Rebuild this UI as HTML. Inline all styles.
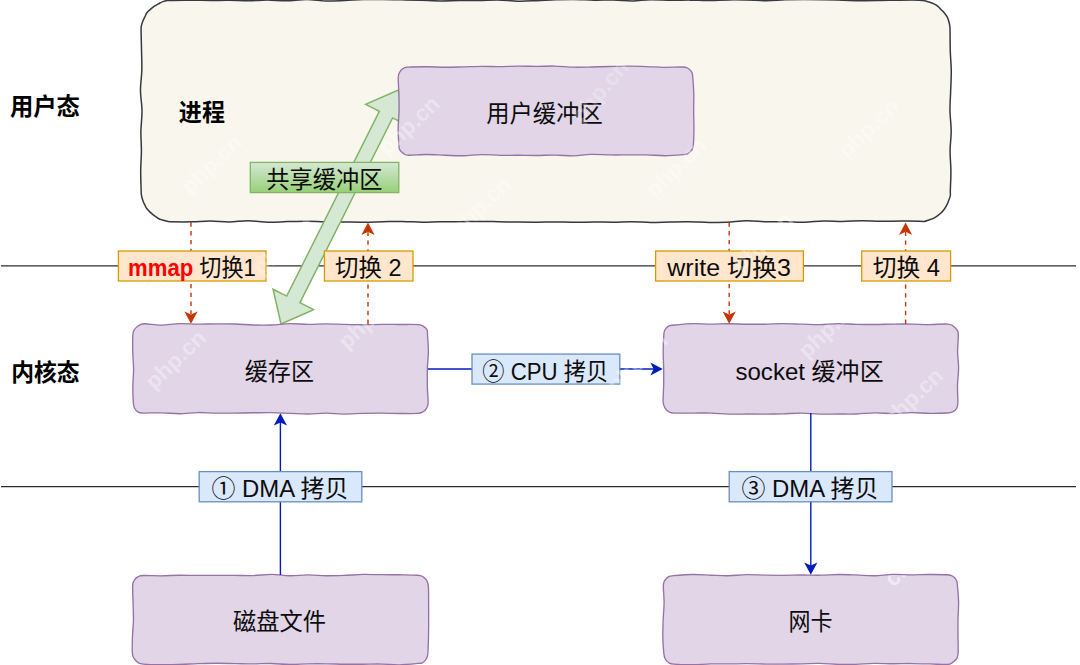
<!DOCTYPE html>
<html lang="zh-CN">
<head>
<meta charset="utf-8">
<title>mmap + write 零拷贝示意图</title>
<style>
html,body{margin:0;padding:0;background:#fff;}
body{width:1080px;height:665px;overflow:hidden;font-family:"Liberation Sans","Noto Sans CJK SC",sans-serif;}
svg{display:block;}
svg text{font-family:"Liberation Sans","Noto Sans CJK SC",sans-serif;}
</style>
</head>
<body>
<svg width="1080" height="665" viewBox="0 0 1080 665" role="img" aria-label="mmap + write 数据拷贝与上下文切换示意图">
<defs><linearGradient id="gg" x1="0" y1="0" x2="0" y2="1"><stop offset="0" stop-color="#d5e8d4"/><stop offset="1" stop-color="#97d077"/></linearGradient></defs>
<rect width="1080" height="665" fill="#fff"/>
<path d="M1 265.9 H1076" stroke="#2e2e2e" stroke-width="1.3" fill="none"/>
<path d="M1 486.7 H1076" stroke="#2e2e2e" stroke-width="1.3" fill="none"/>
<path d="M172.12 0.4C176.24 0.36 185.68 0.23 192.08 0.24C198.49 0.25 204.36 0.44 210.54 0.45C216.71 0.46 222.73 0.26 229.15 0.32C235.57 0.38 242.71 0.86 249.07 0.8C255.43 0.74 261.08 -0.04 267.32 -0.03C273.55 -0.03 279.92 0.9 286.47 0.83C293.03 0.75 300.02 -0.52 306.66 -0.48C313.3 -0.43 319.94 0.93 326.31 1.09C332.69 1.25 338.76 0.77 344.92 0.5C351.07 0.23 356.88 -0.37 363.23 -0.52C369.58 -0.68 376.63 -0.51 383.03 -0.45C389.42 -0.38 395.37 -0.25 401.61 -0.14C407.86 -0.02 414.04 0.07 420.5 0.24C426.96 0.41 433.83 0.83 440.36 0.88C446.89 0.93 453.25 0.59 459.66 0.54C466.06 0.49 472.41 0.68 478.78 0.58C485.15 0.47 491.35 -0.17 497.87 -0.08C504.4 0.02 511.46 1.02 517.95 1.14C524.45 1.26 530.65 0.87 536.85 0.65C543.04 0.44 548.89 0.02 555.12 -0.16C561.35 -0.34 567.72 -0.48 574.23 -0.43C580.75 -0.38 587.66 0.04 594.21 0.13C600.75 0.22 607.06 -0.02 613.5 0.11C619.95 0.23 626.71 0.94 632.86 0.89C639 0.84 644.02 -0.09 650.39 -0.19C656.76 -0.3 664.43 0.2 671.1 0.25C677.76 0.3 684.23 0.08 690.38 0.13C696.53 0.17 701.67 0.56 708 0.52C714.33 0.48 721.97 -0.01 728.36 -0.09C734.75 -0.18 739.9 -0.12 746.34 0.02C752.78 0.15 760.6 0.76 767 0.74C773.39 0.71 778.58 0.07 784.72 -0.13C790.86 -0.33 797.27 -0.43 803.85 -0.45C810.43 -0.47 817.68 -0.36 824.2 -0.25C830.71 -0.14 836.74 0.05 842.95 0.21C849.17 0.37 855.22 0.64 861.49 0.69C867.76 0.75 874.18 0.63 880.55 0.54C886.92 0.46 893.22 0.23 899.69 0.17C906.15 0.1 915.17 0.05 919.33 0.16C923.49 0.28 923.02 0.55 924.63 0.86C926.24 1.18 927.5 1.59 928.96 2.05C930.42 2.51 931.91 2.91 933.4 3.62C934.9 4.33 936.64 5.3 937.93 6.3C939.23 7.31 940.1 8.57 941.18 9.67C942.26 10.78 943.39 11.69 944.41 12.93C945.43 14.18 946.54 15.7 947.28 17.12C948.03 18.55 948.43 19.9 948.86 21.47C949.29 23.03 949.67 24.83 949.87 26.5C950.07 28.17 950 27.37 950.06 31.47C950.13 35.58 950.08 44.53 950.28 51.13C950.48 57.74 951.22 64.34 951.28 71.1C951.34 77.85 950.85 85.12 950.63 91.66C950.41 98.2 949.87 103.74 949.96 110.36C950.06 116.99 951.18 124.76 951.19 131.4C951.21 138.05 950.12 143.58 950.07 150.25C950.03 156.92 950.87 164.67 950.91 171.44C950.95 178.21 950.41 186.86 950.32 190.87C950.23 194.88 950.58 194 950.35 195.51C950.12 197.02 949.52 198.37 948.94 199.94C948.35 201.52 947.6 203.45 946.85 204.95C946.09 206.45 945.35 207.65 944.42 208.94C943.5 210.24 942.38 211.61 941.28 212.71C940.17 213.82 939.09 214.62 937.78 215.56C936.46 216.5 934.87 217.62 933.38 218.35C931.89 219.08 930.32 219.41 928.82 219.92C927.32 220.43 925.91 221.21 924.38 221.43C922.86 221.65 923.58 221.28 919.69 221.23C915.8 221.17 907.6 221.1 901.05 221.1C894.49 221.09 886.88 221.25 880.36 221.21C873.83 221.17 868.27 220.82 861.92 220.85C855.58 220.88 848.65 221.36 842.3 221.38C835.95 221.4 830.15 220.83 823.81 220.97C817.48 221.12 810.57 222.12 804.3 222.26C798.02 222.41 792.48 221.95 786.19 221.87C779.89 221.78 773.16 221.92 766.53 221.74C759.91 221.57 753.01 220.72 746.43 220.81C739.86 220.9 733.29 222.03 727.07 222.3C720.84 222.56 715.45 222.46 709.06 222.39C702.68 222.31 695.2 221.9 688.75 221.83C682.3 221.77 676.67 221.89 670.37 221.99C664.07 222.09 657.43 222.5 650.93 222.45C644.43 222.4 637.62 221.71 631.35 221.68C625.09 221.65 619.52 222.24 613.32 222.28C607.12 222.32 600.53 221.94 594.16 221.95C587.79 221.95 581.59 222.31 575.09 222.31C568.59 222.3 561.54 221.93 555.18 221.91C548.82 221.9 543.32 222.2 536.95 222.23C530.58 222.26 523.36 222.18 516.97 222.09C510.57 222.01 504.89 221.84 498.56 221.72C492.24 221.61 485.46 221.39 479 221.4C472.53 221.41 466.31 221.71 459.76 221.79C453.22 221.86 446.02 221.76 439.75 221.84C433.48 221.91 428.34 222.32 422.14 222.25C415.94 222.17 408.99 221.5 402.53 221.41C396.07 221.33 389.85 221.61 383.38 221.74C376.91 221.87 370.29 222.13 363.71 222.18C357.14 222.22 350.45 222.09 343.95 222.03C337.44 221.96 330.97 221.92 324.69 221.77C318.42 221.62 312.5 221.17 306.3 221.14C300.1 221.11 293.86 221.4 287.51 221.6C281.16 221.79 274.71 222.45 268.2 222.31C261.69 222.18 254.91 220.84 248.43 220.77C241.96 220.7 235.75 221.86 229.35 221.9C222.94 221.95 216.23 221.04 210.02 221.04C203.8 221.03 198.36 221.74 192.05 221.87C185.74 222 176.3 221.93 172.17 221.83C168.03 221.74 168.87 221.62 167.25 221.32C165.63 221.02 163.93 220.52 162.44 220.04C160.95 219.57 159.68 219.21 158.31 218.47C156.94 217.73 155.53 216.62 154.2 215.61C152.88 214.6 151.55 213.54 150.33 212.41C149.11 211.28 147.83 210.07 146.9 208.82C145.98 207.56 145.46 206.28 144.78 204.88C144.1 203.49 143.4 202.05 142.84 200.45C142.29 198.84 141.74 196.96 141.45 195.25C141.16 193.55 141.24 194.34 141.12 190.22C140.99 186.1 140.66 177.12 140.71 170.54C140.76 163.97 141.39 157.28 141.41 150.76C141.44 144.25 140.79 138.09 140.89 131.44C140.99 124.79 142.09 117.74 142.02 110.87C141.95 104 140.51 96.99 140.48 90.24C140.45 83.49 141.65 76.83 141.83 70.35C142.01 63.86 141.68 57.81 141.55 51.33C141.43 44.85 141.13 35.66 141.09 31.47C141.04 27.29 141.03 27.91 141.3 26.23C141.56 24.56 142.11 22.96 142.69 21.44C143.27 19.91 144.07 18.51 144.77 17.07C145.48 15.63 145.98 14.1 146.91 12.81C147.84 11.52 149.17 10.43 150.36 9.35C151.55 8.27 152.73 7.21 154.06 6.31C155.38 5.41 156.86 4.73 158.31 3.95C159.75 3.17 161.23 2.22 162.73 1.64C164.23 1.06 165.77 0.7 167.34 0.49C168.9 0.28 167.99 0.44 172.12 0.4Z" fill="#f9f7ed" stroke="#36393d" stroke-width="1.5" stroke-linejoin="round"/>
<polygon points="281,324 313.62,309.59 299.94,302.73 392.59,117.9 406.27,124.76 398.3,90 365.68,104.41 379.36,111.27 286.71,296.1 273.03,289.24" fill="#d5e8d4" stroke="#82b366" stroke-width="1.5" stroke-linejoin="miter"/>
<path d="M408.26 67.1C412.26 66.84 421.18 66.74 427.28 66.77C433.38 66.79 438.73 67.26 444.87 67.27C451 67.28 457.91 66.97 464.07 66.82C470.24 66.67 475.98 66.42 481.85 66.38C487.72 66.34 493.2 66.64 499.31 66.59C505.41 66.55 512.2 66.15 518.5 66.11C524.79 66.07 531.1 66.38 537.09 66.37C543.08 66.36 548.31 65.93 554.45 66.07C560.59 66.2 567.68 67.03 573.94 67.18C580.19 67.33 586.17 67.09 592 66.99C597.83 66.88 602.93 66.66 608.91 66.53C614.9 66.39 621.58 66.17 627.92 66.19C634.25 66.2 640.91 66.4 646.9 66.59C652.9 66.78 657.96 67.23 663.89 67.31C669.82 67.38 678.48 66.89 682.49 67.04C686.5 67.19 686.39 67.4 687.92 68.24C689.46 69.07 690.91 70.65 691.71 72.04C692.5 73.43 692.35 72.95 692.7 76.56C693.05 80.17 693.63 88.05 693.79 93.7C693.94 99.35 693.62 104.7 693.65 110.48C693.68 116.27 694 122.69 693.95 128.41C693.9 134.12 693.69 141.15 693.34 144.75C692.99 148.34 692.77 148.49 691.84 149.98C690.9 151.47 689.17 152.91 687.74 153.68C686.3 154.45 686.99 154.28 683.22 154.62C679.45 154.96 671.32 155.68 665.12 155.72C658.92 155.76 652.25 155.02 646.04 154.88C639.82 154.75 633.77 154.91 627.84 154.92C621.91 154.92 616.65 155 610.45 154.92C604.25 154.84 596.8 154.29 590.64 154.45C584.48 154.61 579.45 155.78 573.49 155.89C567.53 155.99 561 155.15 554.87 155.09C548.74 155.02 542.86 155.47 536.7 155.5C530.54 155.53 524 155.31 517.92 155.27C511.83 155.24 506.29 155.41 500.19 155.3C494.09 155.18 487.47 154.49 481.33 154.57C475.19 154.65 469.38 155.67 463.34 155.78C457.29 155.9 451.17 155.48 445.07 155.26C438.98 155.04 432.84 154.46 426.75 154.47C420.66 154.47 412.4 155.42 408.56 155.28C404.72 155.14 405.16 154.51 403.71 153.62C402.25 152.74 400.6 151.33 399.81 149.95C399.01 148.57 399.21 148.9 398.94 145.33C398.66 141.77 398.13 134.26 398.15 128.56C398.17 122.85 398.91 116.84 399.04 111.09C399.17 105.35 399.05 99.77 398.91 94.11C398.78 88.45 398.06 80.87 398.23 77.16C398.4 73.45 399.07 73.32 399.92 71.86C400.76 70.4 401.92 69.17 403.31 68.38C404.7 67.58 404.27 67.37 408.26 67.1Z" fill="#e1d5e7" stroke="#9673a6" stroke-width="1.35" stroke-linejoin="round"/>
<path d="M144.03 323.72C147.82 323.58 154.94 325.1 160.82 325.1C166.71 325.09 173.11 323.87 179.37 323.69C185.63 323.52 192.12 324.02 198.4 324.05C204.69 324.08 210.89 323.88 217.07 323.87C223.25 323.86 229.45 323.82 235.47 324.01C241.49 324.2 247.16 324.83 253.18 324.99C259.2 325.15 265.48 325.21 271.6 324.98C277.73 324.74 283.78 323.67 289.93 323.58C296.07 323.49 302.5 324.41 308.49 324.44C314.48 324.48 319.78 323.81 325.86 323.8C331.95 323.8 338.75 324.28 345.01 324.43C351.28 324.59 357.32 324.74 363.44 324.74C369.57 324.73 375.73 324.45 381.76 324.41C387.8 324.36 393.68 324.45 399.63 324.48C405.58 324.5 413.61 324.33 417.46 324.56C421.32 324.79 421.16 325.02 422.74 325.86C424.33 326.71 426.15 328.06 426.95 329.63C427.74 331.21 427.29 331.71 427.53 335.32C427.76 338.93 428.39 345.71 428.37 351.3C428.34 356.88 427.55 362.99 427.38 368.85C427.21 374.71 427.23 380.82 427.35 386.48C427.47 392.14 428.22 399.2 428.1 402.81C427.99 406.42 427.48 406.64 426.64 408.14C425.81 409.64 424.62 410.9 423.08 411.79C421.54 412.67 421.41 413.15 417.4 413.43C413.38 413.71 405.04 413.49 398.99 413.45C392.94 413.41 387.09 413.21 381.1 413.19C375.1 413.18 369.23 413.2 363.02 413.35C356.8 413.5 349.97 414.12 343.79 414.09C337.61 414.07 331.95 413.21 325.94 413.19C319.92 413.17 313.66 413.97 307.72 413.99C301.79 414.01 296.41 413.54 290.32 413.32C284.22 413.1 277.26 412.75 271.15 412.65C265.04 412.56 259.71 412.71 253.65 412.77C247.6 412.84 241.05 413.01 234.81 413.06C228.56 413.11 222.36 413.15 216.17 413.07C209.98 412.99 203.71 412.44 197.67 412.56C191.63 412.68 185.9 413.73 179.93 413.77C173.96 413.82 167.91 412.94 161.82 412.82C155.74 412.7 147.38 413.17 143.41 413.05C139.44 412.92 139.49 412.91 138 412.08C136.51 411.24 135.22 409.57 134.44 408.03C133.67 406.48 133.62 406.48 133.35 402.8C133.09 399.12 132.8 391.54 132.84 385.94C132.88 380.33 133.6 374.82 133.59 369.19C133.57 363.56 132.87 357.91 132.76 352.16C132.64 346.42 132.61 338.46 132.88 334.72C133.15 330.98 133.49 331.19 134.37 329.73C135.24 328.27 136.5 326.96 138.11 325.95C139.72 324.95 140.25 323.87 144.03 323.72Z" fill="#e1d5e7" stroke="#9673a6" stroke-width="1.35" stroke-linejoin="round"/>
<path d="M674.78 325.02C678.77 324.64 686.97 323.77 692.96 323.63C698.95 323.49 704.73 324.17 710.71 324.18C716.7 324.19 722.88 323.7 728.85 323.71C734.82 323.71 740.55 324.12 746.54 324.21C752.54 324.3 758.79 324.32 764.82 324.23C770.85 324.13 776.53 323.65 782.74 323.64C788.95 323.63 795.86 324 802.07 324.17C808.28 324.35 814 324.77 819.99 324.67C825.97 324.58 831.82 323.63 837.97 323.59C844.12 323.55 850.73 324.29 856.89 324.44C863.04 324.59 868.79 324.55 874.92 324.49C881.05 324.43 887.55 324.15 893.65 324.08C899.76 324.01 905.58 324.01 911.55 324.09C917.52 324.17 923.49 324.56 929.48 324.56C935.47 324.55 943.6 323.86 947.5 324.07C951.39 324.28 951.29 324.92 952.84 325.83C954.38 326.74 955.83 328.11 956.74 329.52C957.66 330.93 958.19 330.63 958.33 334.29C958.47 337.96 957.54 345.85 957.59 351.52C957.63 357.19 958.62 362.71 958.61 368.31C958.59 373.92 957.61 379.43 957.48 385.16C957.36 390.88 957.97 398.83 957.84 402.67C957.72 406.52 957.58 406.71 956.73 408.23C955.89 409.75 954.33 411.03 952.76 411.82C951.18 412.61 951.09 412.73 947.26 412.99C943.44 413.25 935.9 413.43 929.81 413.38C923.73 413.33 916.82 412.63 910.75 412.67C904.67 412.71 899.28 413.6 893.35 413.63C887.43 413.67 881.33 412.82 875.19 412.88C869.05 412.94 862.65 413.78 856.51 413.97C850.37 414.16 844.53 414 838.35 414.01C832.17 414.03 825.66 414.2 819.43 414.06C813.21 413.92 807.14 413.21 801.02 413.17C794.91 413.12 788.65 413.65 782.74 413.8C776.83 413.94 771.44 414.02 765.57 414.06C759.7 414.1 753.64 414.01 747.52 414.02C741.4 414.02 734.95 414.24 728.86 414.08C722.77 413.92 716.93 413.22 710.97 413.05C705 412.89 699.27 413.1 693.09 413.1C686.92 413.1 677.97 413.29 673.93 413.06C669.88 412.83 670.28 412.52 668.83 411.72C667.38 410.93 666.2 409.9 665.25 408.3C664.3 406.71 663.41 406 663.15 402.17C662.88 398.33 663.56 390.75 663.65 385.27C663.73 379.79 663.74 374.9 663.67 369.3C663.6 363.7 663.18 357.43 663.2 351.67C663.23 345.92 663.54 338.42 663.82 334.77C664.11 331.12 664.05 331.24 664.92 329.77C665.79 328.3 667.38 326.72 669.03 325.93C670.67 325.14 670.79 325.4 674.78 325.02Z" fill="#e1d5e7" stroke="#9673a6" stroke-width="1.35" stroke-linejoin="round"/>
<path d="M143.64 575.54C147.47 575.4 155.12 575.84 161.08 575.8C167.04 575.75 173.31 575.34 179.38 575.27C185.46 575.21 191.42 575.4 197.51 575.41C203.59 575.42 209.62 575.33 215.89 575.33C222.15 575.33 228.92 575.38 235.09 575.43C241.27 575.47 246.76 575.76 252.93 575.59C259.09 575.41 265.97 574.36 272.09 574.38C278.2 574.41 283.59 575.65 289.62 575.73C295.65 575.82 302.22 574.91 308.26 574.91C314.3 574.91 319.93 575.64 325.85 575.72C331.78 575.81 337.55 575.63 343.79 575.42C350.03 575.2 357.13 574.57 363.29 574.45C369.45 574.33 374.73 574.63 380.75 574.69C386.76 574.74 393.2 574.7 399.38 574.79C405.56 574.88 413.93 574.93 417.82 575.24C421.71 575.54 421.31 575.83 422.75 576.63C424.19 577.43 425.52 578.47 426.45 580.02C427.39 581.58 428 582.1 428.36 585.98C428.72 589.86 428.56 597.76 428.61 603.29C428.66 608.81 428.7 613.48 428.68 619.13C428.66 624.77 428.62 631.45 428.49 637.18C428.35 642.91 428.2 649.94 427.87 653.5C427.54 657.06 427.34 657.02 426.5 658.55C425.66 660.08 424.2 661.88 422.84 662.69C421.48 663.5 422.28 663.06 418.36 663.41C414.44 663.76 405.47 664.69 399.32 664.8C393.17 664.9 387.62 664.15 381.45 664.05C375.29 663.95 368.56 664.18 362.33 664.21C356.1 664.24 350.06 664.29 344.07 664.23C338.08 664.17 332.36 663.89 326.4 663.83C320.45 663.76 314.5 663.73 308.35 663.85C302.21 663.96 295.78 664.59 289.54 664.53C283.3 664.47 276.97 663.6 270.91 663.5C264.84 663.39 259.07 663.88 253.14 663.9C247.21 663.91 241.48 663.7 235.33 663.6C229.18 663.5 222.45 663.28 216.24 663.29C210.03 663.31 204.16 663.51 198.08 663.7C192.01 663.89 186 664.24 179.79 664.42C173.59 664.6 166.91 664.82 160.85 664.78C154.78 664.74 147.21 664.53 143.42 664.17C139.62 663.82 139.62 663.55 138.07 662.64C136.53 661.72 135.11 660.27 134.16 658.69C133.2 657.12 132.63 656.93 132.35 653.18C132.07 649.44 132.29 641.77 132.47 636.24C132.65 630.7 133.36 625.73 133.45 619.98C133.54 614.23 133.16 607.47 133.03 601.73C132.9 595.99 132.45 589.11 132.67 585.52C132.88 581.94 133.4 581.69 134.31 580.2C135.22 578.72 136.57 577.41 138.12 576.63C139.68 575.86 139.81 575.68 143.64 575.54Z" fill="#e1d5e7" stroke="#9673a6" stroke-width="1.35" stroke-linejoin="round"/>
<path d="M673.9 575.68C677.93 575.33 686.67 574.62 692.88 574.54C699.09 574.47 705.3 575.02 711.16 575.22C717.03 575.42 722.15 575.81 728.07 575.72C733.98 575.64 740.46 574.79 746.64 574.69C752.82 574.59 759.1 575.04 765.15 575.14C771.19 575.24 776.71 575.32 782.9 575.3C789.09 575.28 796.01 575.04 802.26 575.02C808.52 575 814.36 575.29 820.44 575.2C826.51 575.11 832.76 574.53 838.72 574.49C844.68 574.45 850.32 574.74 856.21 574.95C862.09 575.16 867.88 575.86 874.03 575.76C880.18 575.66 886.91 574.51 893.12 574.36C899.32 574.21 905.31 574.85 911.27 574.86C917.22 574.88 922.82 574.47 928.87 574.46C934.92 574.44 943.58 574.43 947.58 574.76C951.58 575.09 951.4 575.46 952.89 576.42C954.37 577.37 955.74 579.03 956.48 580.46C957.23 581.89 957.01 581.38 957.36 584.98C957.72 588.57 958.51 596.28 958.61 602.05C958.71 607.82 958.08 613.86 957.98 619.6C957.88 625.33 957.98 630.84 958 636.49C958.02 642.14 958.36 649.75 958.1 653.49C957.84 657.23 957.34 657.45 956.45 658.93C955.55 660.4 954.23 661.41 952.73 662.34C951.23 663.27 951.31 664.24 947.45 664.5C943.59 664.77 935.63 664.09 929.57 663.93C923.51 663.77 917.18 663.58 911.1 663.55C905.02 663.52 899.28 663.78 893.09 663.76C886.9 663.74 880.19 663.32 873.97 663.41C867.75 663.5 861.64 664.13 855.78 664.3C849.92 664.46 844.86 664.55 838.81 664.41C832.77 664.27 825.58 663.54 819.52 663.44C813.46 663.33 808.55 663.69 802.45 663.8C796.36 663.91 789.13 664.07 782.97 664.11C776.8 664.16 771.46 664.14 765.46 664.07C759.45 663.99 753.07 663.71 746.96 663.69C740.85 663.66 734.81 663.89 728.79 663.93C722.77 663.97 716.97 663.78 710.86 663.92C704.74 664.06 698.26 664.74 692.1 664.78C685.94 664.82 677.76 664.48 673.88 664.14C670 663.81 670.26 663.66 668.8 662.76C667.34 661.87 665.96 660.4 665.12 658.79C664.29 657.17 664.16 656.72 663.78 653.07C663.39 649.42 662.92 642.59 662.83 636.89C662.73 631.2 663 624.59 663.21 618.88C663.43 613.17 664.08 608.21 664.1 602.65C664.12 597.08 663.22 589.21 663.34 585.51C663.46 581.81 663.92 581.93 664.82 580.45C665.72 578.98 667.21 577.45 668.72 576.65C670.24 575.86 669.88 576.03 673.9 575.68Z" fill="#e1d5e7" stroke="#9673a6" stroke-width="1.35" stroke-linejoin="round"/>
<path d="M280.4 575V422" stroke="#001dbc" stroke-width="1.4" fill="none"/>
<polygon points="280.4,413.2 287,425.6 280.4,422.4 273.8,425.6" fill="#001dbc"/>
<path d="M428 369H654" stroke="#001dbc" stroke-width="1.4" fill="none"/>
<polygon points="662.8,369 650.4,375.6 653.6,369 650.4,362.4" fill="#001dbc"/>
<path d="M810.8 413V566" stroke="#001dbc" stroke-width="1.4" fill="none"/>
<polygon points="810.8,574.8 804.2,562.4 810.8,565.6 817.4,562.4" fill="#001dbc"/>
<path d="M191 222.3V314" stroke="#c73500" stroke-width="1.4" stroke-dasharray="4.4 4.4" fill="none"/>
<polygon points="191,323.8 184.4,311.4 191,314.6 197.6,311.4" fill="#c73500"/>
<path d="M368 324V232" stroke="#c73500" stroke-width="1.4" stroke-dasharray="4.4 4.4" fill="none"/>
<polygon points="368,222.6 374.6,235 368,231.8 361.4,235" fill="#c73500"/>
<path d="M729.2 222.3V314" stroke="#c73500" stroke-width="1.4" stroke-dasharray="4.4 4.4" fill="none"/>
<polygon points="729.2,323.8 722.6,311.4 729.2,314.6 735.8,311.4" fill="#c73500"/>
<path d="M905.6 324V232" stroke="#c73500" stroke-width="1.4" stroke-dasharray="4.4 4.4" fill="none"/>
<polygon points="905.6,222.6 912.2,235 905.6,231.8 899,235" fill="#c73500"/>
<rect x="118.4" y="251" width="147.6" height="30" fill="#ffe6cc" stroke="#d79b00" stroke-width="1.3"/>
<rect x="324.4" y="251" width="88.6" height="30" fill="#ffe6cc" stroke="#d79b00" stroke-width="1.3"/>
<rect x="655.6" y="251" width="147.8" height="30" fill="#ffe6cc" stroke="#d79b00" stroke-width="1.3"/>
<rect x="861.7" y="251" width="88.9" height="30" fill="#ffe6cc" stroke="#d79b00" stroke-width="1.3"/>
<rect x="250.3" y="162.4" width="148.5" height="30.2" fill="url(#gg)" stroke="#82b366" stroke-width="1.3"/>
<rect x="472" y="354.1" width="147.8" height="30" fill="#dae8fc" stroke="#6c8ebf" stroke-width="1.3"/>
<rect x="199.2" y="471.6" width="162.6" height="30.2" fill="#dae8fc" stroke="#6c8ebf" stroke-width="1.3"/>
<rect x="729.2" y="471.6" width="162.8" height="30.2" fill="#dae8fc" stroke="#6c8ebf" stroke-width="1.3"/>
<g>
<text x="9.95" y="114.54" font-size="23.7" font-weight="bold" textLength="70.01" lengthAdjust="spacingAndGlyphs" fill="#000">用户态</text>
</g>
<g>
<text x="11.13" y="380.7" font-size="23.7" font-weight="bold" textLength="68.45" lengthAdjust="spacingAndGlyphs" fill="#000">内核态</text>
</g>
<g>
<text x="178.84" y="121.39" font-size="23.7" font-weight="bold" textLength="46.12" lengthAdjust="spacingAndGlyphs" fill="#000">进程</text>
</g>
<g>
<text x="486.2" y="121.79" font-size="23.7" font-weight="normal" textLength="116.6" lengthAdjust="spacingAndGlyphs" fill="#0d0d0d">用户缓冲区</text>
</g>
<g>
<text x="244.79" y="379.67" font-size="23.7" font-weight="normal" textLength="69.23" lengthAdjust="spacingAndGlyphs" fill="#0d0d0d">缓存区</text>
</g>
<g>
<text x="735.5" y="379.67" font-size="23.7" font-weight="normal" textLength="148.17" lengthAdjust="spacingAndGlyphs" fill="#0d0d0d">socket 缓冲区</text>
</g>
<g>
<text x="233.07" y="630.42" font-size="23.7" font-weight="normal" textLength="93.07" lengthAdjust="spacingAndGlyphs" fill="#0d0d0d">磁盘文件</text>
</g>
<g>
<text x="788.45" y="630.42" font-size="23.7" font-weight="normal" textLength="44.11" lengthAdjust="spacingAndGlyphs" fill="#0d0d0d">网卡</text>
</g>
<g>
<text x="266.34" y="187.95" font-size="23.7" font-weight="normal" textLength="116.22" lengthAdjust="spacingAndGlyphs" fill="#0d0d0d">共享缓冲区</text>
</g>
<g>
<text x="128.08" y="276.32" font-size="23.7" font-weight="normal" textLength="127.83" lengthAdjust="spacingAndGlyphs" fill="#0d0d0d"><tspan fill="#ff0000" font-weight="bold">mmap</tspan> 切换1</text>
</g>
<g>
<text x="335.05" y="276.32" font-size="23.7" font-weight="normal" textLength="66.46" lengthAdjust="spacingAndGlyphs" fill="#0d0d0d">切换 2</text>
</g>
<g>
<text x="667.27" y="276.32" font-size="23.7" font-weight="normal" textLength="123.62" lengthAdjust="spacingAndGlyphs" fill="#0d0d0d">write 切换3</text>
</g>
<g>
<text x="872.75" y="276.32" font-size="23.7" font-weight="normal" textLength="67.31" lengthAdjust="spacingAndGlyphs" fill="#0d0d0d">切换 4</text>
</g>
<g>
<text x="482.31" y="379.72" font-size="23.7" font-weight="normal" textLength="125.83" lengthAdjust="spacingAndGlyphs" fill="#0d0d0d">② CPU 拷贝</text>
</g>
<g>
<text x="211.51" y="497.42" font-size="23.7" font-weight="normal" textLength="136.93" lengthAdjust="spacingAndGlyphs" fill="#0d0d0d">① DMA 拷贝</text>
</g>
<g>
<text x="741.51" y="497.42" font-size="23.7" font-weight="normal" textLength="136.93" lengthAdjust="spacingAndGlyphs" fill="#0d0d0d">③ DMA 拷贝</text>
</g>
<g fill="#fff" font-size="22.6" font-weight="bold" text-anchor="middle">
<text x="0" y="4" fill-opacity="0.3" transform="translate(214 167) rotate(-43.5)">php.cn</text>
<text x="0" y="4" fill-opacity="0.36" transform="translate(411.5 128) rotate(-43.5)">php.cn</text>
<text x="0" y="4" fill-opacity="0.26" transform="translate(602.5 93.5) rotate(-49)">php.cn</text>
<text x="0" y="4" fill-opacity="0.3" transform="translate(483 209) rotate(-43.5)">php.cn</text>
<text x="0" y="4" fill-opacity="0.3" transform="translate(678.5 170) rotate(-43.5)">php.cn</text>
<text x="0" y="4" fill-opacity="0.3" transform="translate(871 131) rotate(-43.5)">php.cn</text>
<text x="0" y="4" fill-opacity="0.36" transform="translate(178 362) rotate(-43.5)">php.cn</text>
<text x="0" y="4" fill-opacity="0.36" transform="translate(371 322) rotate(-43.5)">php.cn</text>
<text x="0" y="4" fill-opacity="0.36" transform="translate(831 331) rotate(-43.5)">php.cn</text>
<text x="0" y="4" fill-opacity="0.36" transform="translate(915 400) rotate(-43.5)">php.cn</text>
<text x="0" y="4" fill-opacity="0.36" transform="translate(640 365) rotate(-43.5)">php.cn</text>
<text x="0" y="4" fill-opacity="0.36" transform="translate(765 244) rotate(-43.5)">php.cn</text>
<text x="0" y="4" fill-opacity="0.3" transform="translate(286 248) rotate(-43.5)">php.cn</text>
</g>
<clipPath id="nic"><rect x="664" y="575.5" width="293.5" height="88"/></clipPath>
<g clip-path="url(#nic)"><text x="0.5" y="0" font-size="22.6" font-weight="bold" transform="translate(893 588) rotate(-43.5)" fill="#fff" fill-opacity=".55">cn</text></g>
</svg>
</body>
</html>
